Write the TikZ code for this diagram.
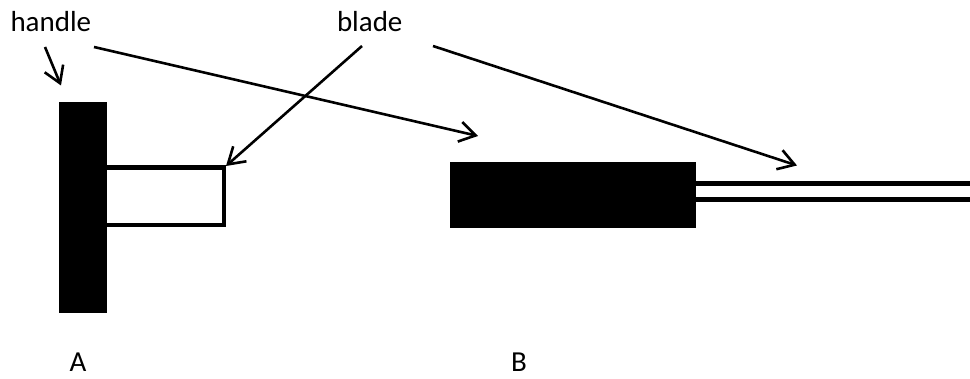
\documentclass[tikz,border=0pt]{standalone}
\usepackage{fontspec}
\setmainfont{Carlito}
\usetikzlibrary{arrows.meta}
\begin{document}
\begin{tikzpicture}[x=1pt,y=-1pt,
  label/.style={inner sep=0pt, outer sep=0pt, anchor=base west, font=\fontsize{29}{31}\selectfont},
  pointer/.style={line width=2.6pt, -{Straight Barb[length=16pt,width=20pt]}},
  bladeline/.style={line width=5pt},
]
\useasboundingbox (0,0) rectangle (970,379);

% labels
\node[label] (handle) at (10.5,32) {handle};
\node[label] (blade) at (337,32) {blade};
\node[label] (A) at (69.5,372) {A};
\node[label] (B) at (511,372) {B};

% knife A: blade outline behind a tall handle
\draw[line width=4.7pt] (100,167.5) rectangle (224,225);
\fill (59,102) rectangle (107,313);
\coordinate (bladeAcorner) at (226,166);

% knife B: wide handle with a long thin blade
\fill (450,162) rectangle (696,228);
\draw[bladeline] (690,183.3) -- (980,183.3);
\draw[bladeline] (690,199.3) -- (980,199.3);
\coordinate (handleBtop) at (478,136);
\coordinate (bladeBtop) at (797,165.5);
\coordinate (handleAtop) at (61,85.5);

% pointer starts
\coordinate (h1) at (45,47);
\coordinate (h2) at (94,47);
\coordinate (b1) at (362,46);
\coordinate (b2) at (433,46);

\draw[pointer] (h1) -- (handleAtop);
\draw[pointer] (h2) -- (handleBtop);
\draw[pointer] (b1) -- (bladeAcorner);
\draw[pointer] (b2) -- (bladeBtop);
\end{tikzpicture}
\end{document}
